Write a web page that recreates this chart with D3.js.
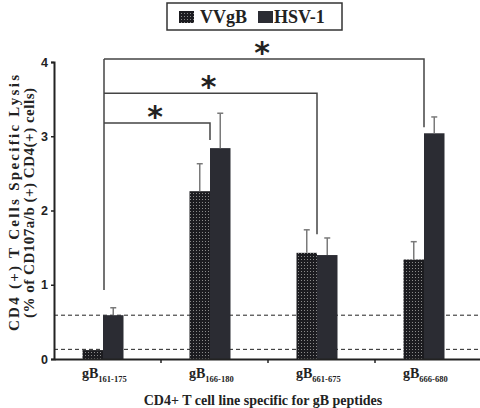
<!DOCTYPE html>
<html>
<head>
<meta charset="utf-8">
<script src="https://cdnjs.cloudflare.com/ajax/libs/d3/7.8.5/d3.min.js"></script>
<style>
  body { margin: 0; background: #fff; }
  svg text { font-family: "Liberation Serif", "Times New Roman", serif; font-weight: bold; fill: #222; }
  .axis text { font-family: "Liberation Sans", Arial, sans-serif; }
</style>
</head>
<body>
<script>
const categories = ["161-175", "166-180", "661-675", "666-680"];
const seriesNames = ["VVgB", "HSV-1"];
const vvgb = [0.12, 2.26, 1.43, 1.34];
const vvgbErr = [0, 0.37, 0.31, 0.24];
const hsv = [0.59, 2.84, 1.40, 3.04];
const hsvErr = [0.10, 0.47, 0.23, 0.22];
const yTicks = [0, 1, 2, 3, 4];
const refLines = [0.13, 0.59];
// brackets: from group a to group b, bar level, right-drop end, star level
const brackets = [
  {from: 0, to: 1, level: 3.18, end: 2.95, star: 3.30},
  {from: 0, to: 2, level: 3.58, end: 1.68, star: 3.71},
  {from: 0, to: 3, level: 4.04, end: 3.12, star: 4.16}
];
const leftDropEnd = 0.93;

const w = 480, h = 408;
const svg = d3.select("body").append("svg").attr("width", w).attr("height", h);

const defs = svg.append("defs");
const pat = defs.append("pattern").attr("id", "dots")
  .attr("patternUnits", "userSpaceOnUse").attr("width", 3).attr("height", 3);
pat.append("rect").attr("width", 3).attr("height", 3).attr("fill", "#1c1c20");
pat.append("rect").attr("x", 1).attr("y", 1).attr("width", 1).attr("height", 1).attr("fill", "#8a8a8a");

const x = d3.scaleBand().domain(categories).range([54, 482]);
const y = d3.scaleLinear().domain([0, 4]).range([359, 62]);
const barW = 20.5;
const groupCenter = c => x(c) + x.bandwidth() / 2 - 4.5;

// reference dashed lines
svg.selectAll(".ref").data(refLines).enter().append("line")
  .attr("x1", 54).attr("x2", 482)
  .attr("y1", d => y(d)).attr("y2", d => y(d))
  .attr("stroke", "#222").attr("stroke-width", 1).attr("stroke-dasharray", "4,3");

const rows = categories.map((c, i) => ({c: c, v: [vvgb[i], hsv[i]], e: [vvgbErr[i], hsvErr[i]]}));

// bars
const g = svg.selectAll(".grp").data(rows).enter().append("g");
g.each(function(d) {
  const sel = d3.select(this);
  const cx = groupCenter(d.c);
  d.v.forEach((v, k) => {
    const bx = cx - barW + k * barW;
    sel.append("rect")
      .attr("x", bx).attr("y", y(v))
      .attr("width", barW).attr("height", y(0) - y(v))
      .attr("fill", k === 0 ? "url(#dots)" : "#2b2c33");
    if (d.e[k] > 0) {
      const mx = bx + barW / 2;
      sel.append("line").attr("x1", mx).attr("x2", mx)
        .attr("y1", y(v)).attr("y2", y(v + d.e[k]))
        .attr("stroke", "#7a7a7a").attr("stroke-width", 1.5);
      sel.append("line").attr("x1", mx - 3).attr("x2", mx + 3)
        .attr("y1", y(v + d.e[k])).attr("y2", y(v + d.e[k]))
        .attr("stroke", "#7a7a7a").attr("stroke-width", 1.5);
    }
  });
});

// brackets
const bx0 = groupCenter(categories[0]) + 1;
svg.append("line").attr("x1", bx0).attr("x2", bx0)
  .attr("y1", y(brackets[2].level)).attr("y2", y(leftDropEnd))
  .attr("stroke", "#444").attr("stroke-width", 1.5);
brackets.forEach(b => {
  const xr = groupCenter(categories[b.to]);
  svg.append("path")
    .attr("d", `M${bx0},${y(b.level)}H${xr}V${y(b.end)}`)
    .attr("fill", "none").attr("stroke", "#444").attr("stroke-width", 1.5);
  svg.append("text").attr("x", (bx0 + xr) / 2 - 2).attr("y", y(b.star) + 13)
    .attr("text-anchor", "middle").style("font-size", "30px").style("font-family", "DejaVu Sans")
    .text("*");
});

// axes
const yAxis = svg.append("g").attr("class", "axis").attr("transform", "translate(54,0)")
  .call(d3.axisLeft(y).tickValues(yTicks).tickFormat(d3.format("d")).tickSize(3).tickPadding(3));
const xAxis = svg.append("g").attr("class", "axis").attr("transform", "translate(0,359)")
  .call(d3.axisBottom(x).tickSize(0).tickFormat(""));
[yAxis, xAxis].forEach(a => {
  a.select(".domain").attr("stroke", "#222").attr("stroke-width", 2);
  a.selectAll("line").attr("stroke", "#222").attr("stroke-width", 1.5);
});
yAxis.selectAll("text").style("font-size", "12.5px").style("font-weight", "bold").attr("fill", "#222");
xAxis.selectAll(".sep").data(categories.slice(1)).enter().append("line")
  .attr("x1", d => x(d)).attr("x2", d => x(d)).attr("y1", 0).attr("y2", 4)
  .attr("stroke", "#222").attr("stroke-width", 1.5);

// x tick labels
const xl = svg.selectAll(".xl").data(categories).enter().append("text")
  .attr("x", d => groupCenter(d) - 21).attr("y", 378).style("font-size", "14px");
xl.append("tspan").text("gB");
xl.append("tspan").attr("dy", 4).style("font-size", "8.5px").text(d => d);

svg.append("text").attr("x", 263).attr("y", 405).attr("text-anchor", "middle")
  .style("font-size", "14px").text("CD4+ T cell line specific for gB peptides");

const yl = svg.append("g").attr("transform", "translate(19,203) rotate(-90)");
yl.append("text").attr("x", 0).attr("y", 0).attr("text-anchor", "middle")
  .style("font-size", "15px").attr("textLength", 256).attr("lengthAdjust", "spacing")
  .text("CD4 (+) T Cells Specific Lysis");
yl.append("text").attr("x", 0).attr("y", 15).attr("text-anchor", "middle")
  .style("font-size", "15px").attr("textLength", 230).attr("lengthAdjust", "spacing")
  .text("(% of CD107a/b (+) CD4(+) cells)");

// legend
const lg = svg.append("g");
lg.append("rect").attr("x", 167).attr("y", 3).attr("width", 175).attr("height", 27)
  .attr("fill", "#fff").attr("stroke", "#333").attr("stroke-width", 1.5);
const lx = [179, 258];
seriesNames.forEach((s, i) => {
  lg.append("rect").attr("x", lx[i]).attr("y", 11).attr("width", 15).attr("height", 12)
    .attr("fill", i === 0 ? "url(#dots)" : "#2b2c33");
  lg.append("text").attr("x", lx[i] + (i === 0 ? 21 : 16)).attr("y", 23)
    .style("font-size", "18px").text(s);
});
</script>
</body>
</html>
